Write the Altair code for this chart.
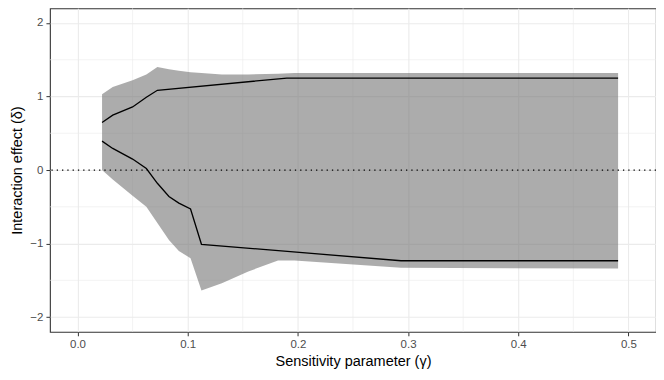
import altair as alt
import pandas as pd

# Ribbon (shaded band)
ribbon_x = [0.0223, 0.032, 0.05, 0.0625, 0.0725, 0.083, 0.092, 0.1026, 0.1125, 0.131, 0.155, 0.182, 0.197, 0.2936, 0.4906]
ribbon_hi = [1.03, 1.13, 1.22, 1.30, 1.40, 1.37, 1.35, 1.33, 1.32, 1.30, 1.30, 1.31, 1.32, 1.32, 1.32]
ribbon_lo = [0.0, -0.13, -0.35, -0.50, -0.72, -0.95, -1.10, -1.20, -1.64, -1.54, -1.38, -1.23, -1.23, -1.33, -1.34]

# Upper bound line
upper_x = [0.0223, 0.032, 0.05, 0.0625, 0.0725, 0.19, 0.4906]
upper_y = [0.647, 0.746, 0.858, 0.99, 1.085, 1.25, 1.25]

# Lower bound line
lower_x = [0.0223, 0.032, 0.05, 0.0625, 0.0725, 0.083, 0.092, 0.1026, 0.1125, 0.2936, 0.4906]
lower_y = [0.393, 0.294, 0.149, 0.02, -0.18, -0.36, -0.45, -0.53, -1.01, -1.234, -1.234]

# Axes / grid
x_major = [0.0, 0.1, 0.2, 0.3, 0.4, 0.5]
x_minor = [0.05, 0.15, 0.25, 0.35, 0.45]
y_major = [-2, -1, 0, 1, 2]
y_minor = [-1.5, -0.5, 0.5, 1.5]
zero_line = [0.0]

FONT = "Liberation Sans"
xscale = alt.Scale(domain=[-0.025, 0.525], nice=False, zero=False)
yscale = alt.Scale(domain=[-2.2, 2.2], nice=False, zero=False)

ribbon_df = pd.DataFrame({"x": ribbon_x, "lo": ribbon_lo, "hi": ribbon_hi})
lines_df = pd.concat([
    pd.DataFrame({"x": upper_x, "y": upper_y, "s": "upper"}),
    pd.DataFrame({"x": lower_x, "y": lower_y, "s": "lower"}),
])

xminor_grid = alt.Chart(pd.DataFrame({"v": x_minor})).mark_rule(
    color="#EBEBEB", strokeWidth=0.6
).encode(x=alt.X("v:Q", scale=xscale))
yminor_grid = alt.Chart(pd.DataFrame({"v": y_minor})).mark_rule(
    color="#EBEBEB", strokeWidth=0.6
).encode(y=alt.Y("v:Q", scale=yscale))

ribbon = alt.Chart(ribbon_df).mark_area(color="#757575", opacity=0.6).encode(
    x=alt.X("x:Q", scale=xscale,
            axis=alt.Axis(values=x_major, format=".1f", title="Sensitivity parameter  (γ)",
                          grid=True, gridColor="#EBEBEB", gridWidth=1.1,
                          domain=False, tickColor="#333333", tickSize=4,
                          labelColor="#4D4D4D", labelFontSize=11.5, labelFont=FONT,
                          labelPadding=3, titleFont=FONT, titleFontSize=14.5,
                          titleFontWeight="normal", titleColor="#000000", titlePadding=4)),
    y=alt.Y("lo:Q", scale=yscale,
            axis=alt.Axis(values=y_major, format="d", title="Interaction effect  (δ)",
                          grid=True, gridColor="#EBEBEB", gridWidth=1.1,
                          domain=False, tickColor="#333333", tickSize=4,
                          labelColor="#4D4D4D", labelFontSize=11.5, labelFont=FONT,
                          labelPadding=3, titleFont=FONT, titleFontSize=14.5,
                          titleFontWeight="normal", titleColor="#000000", titlePadding=5)),
    y2="hi:Q",
)

zero = alt.Chart(pd.DataFrame({"v": zero_line})).mark_rule(
    color="#000000", strokeWidth=1.2, strokeDash=[1.3, 4]
).encode(y=alt.Y("v:Q", scale=yscale))

lines = alt.Chart(lines_df).mark_line(color="#000000", strokeWidth=1.3).encode(
    x=alt.X("x:Q", scale=xscale),
    y=alt.Y("y:Q", scale=yscale),
    detail="s:N",
)

chart = alt.layer(xminor_grid, yminor_grid, ribbon, zero, lines).properties(
    width=607, height=324,
    autosize="none",
    padding={"left": 42, "top": 0, "right": 0, "bottom": 40},
).configure(
    background="white",
    view=alt.ViewConfig(stroke="#333333", strokeWidth=1.1),
)

chart.save("out.html", embed_options={"renderer": "svg", "actions": False})
